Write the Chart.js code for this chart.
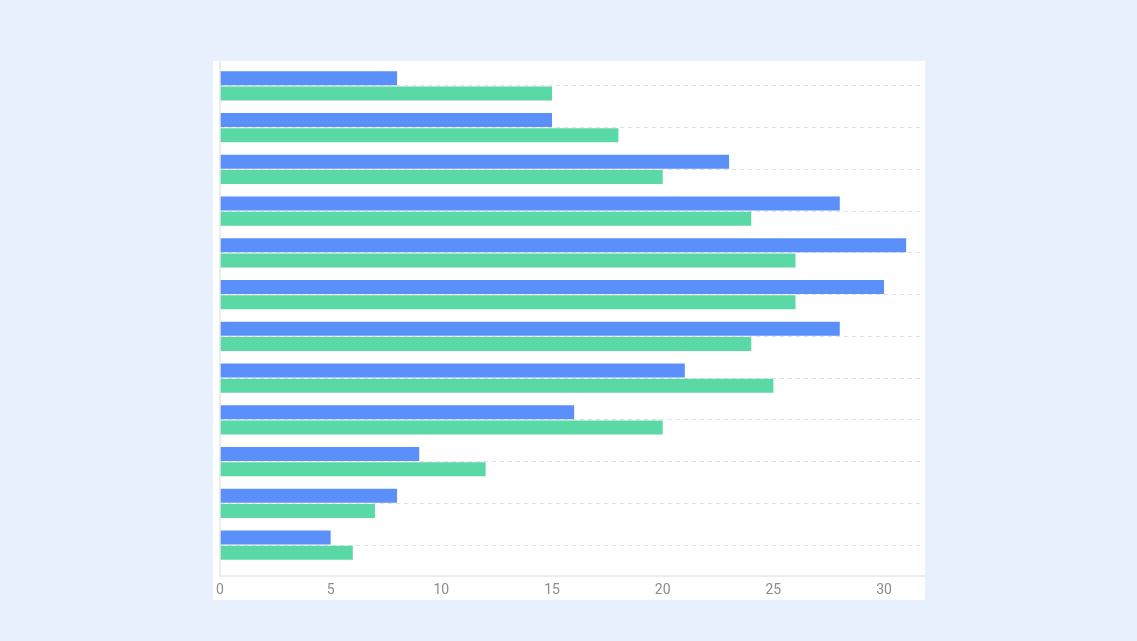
<!DOCTYPE html>
<html>
<head>
<meta charset="utf-8">
<script src="https://cdn.jsdelivr.net/npm/chart.js@4.4.1/dist/chart.umd.min.js"></script>
<style>
  html, body { margin: 0; padding: 0; background: #e9f0fd; }
  #wrap { width: 1137px; height: 641px; position: relative; }
  canvas { display: block; }
</style>
</head>
<body>
<div id="wrap"><canvas id="c" width="1137" height="641"></canvas></div>
<script>
const categories = ['Item 1','Item 2','Item 3','Item 4','Item 5','Item 6','Item 7','Item 8','Item 9','Item 10','Item 11','Item 12'];
const seriesBlue = [8, 15, 23, 28, 31, 30, 28, 21, 16, 9, 8, 5];
const seriesGreen = [15, 18, 20, 24, 26, 26, 24, 25, 20, 12, 7, 6];
const xTicks = [0, 5, 10, 15, 20, 25, 30];

const panelPlugin = {
  id: 'panel',
  beforeDraw(chart) {
    const ctx = chart.ctx;
    ctx.save();
    ctx.fillStyle = '#ffffff';
    ctx.fillRect(213, 61, 712, 539);
    ctx.restore();
  },
  afterDatasetsDraw(chart) {
    const ctx = chart.ctx;
    const x0 = chart.scales.x.getPixelForValue(0);
    const area = chart.chartArea;
    ctx.save();
    ctx.strokeStyle = '#e6e6e6';
    ctx.lineWidth = 1.5;
    ctx.beginPath();
    ctx.moveTo(x0, 61);
    ctx.lineTo(x0, area.bottom + 10);
    ctx.moveTo(x0, area.bottom + 10);
    ctx.lineTo(925, area.bottom + 10);
    ctx.stroke();
    ctx.restore();
  }
};

new Chart(document.getElementById('c'), {
  type: 'bar',
  data: {
    labels: categories,
    datasets: [
      { label: 'A', data: seriesBlue, backgroundColor: '#5b8ff9', categoryPercentage: 0.72, barPercentage: 0.93 },
      { label: 'B', data: seriesGreen, backgroundColor: '#5ad8a6', categoryPercentage: 0.72, barPercentage: 0.93 }
    ]
  },
  plugins: [panelPlugin],
  options: {
    indexAxis: 'y',
    responsive: false,
    animation: false,
    devicePixelRatio: 1,
    layout: { padding: { left: 220, right: 214, top: 65, bottom: 42 } },
    plugins: { legend: { display: false }, tooltip: { enabled: false } },
    scales: {
      x: {
        type: 'linear',
        min: 0,
        max: 31.76,
        afterBuildTicks(scale) {
          scale.ticks = xTicks.map(v => ({ value: v }));
        },
        afterFit(scale) { scale.height = 33; },
        grid: { display: false, drawTicks: false },
        border: { display: false },
        ticks: {
          padding: 16,
          color: '#8c8c8c',
          font: { family: 'Roboto, "Noto Sans", sans-serif', size: 14 }
        }
      },
      y: {
        offset: true,
        afterFit(scale) { scale.width = 0; },
        grid: {
          offset: false,
          drawTicks: false,
          color: '#e0e0e0',
          lineWidth: 1
        },
        border: { display: false, dash: [4, 4] },
        ticks: { display: false }
      }
    }
  }
});
</script>
</body>
</html>
